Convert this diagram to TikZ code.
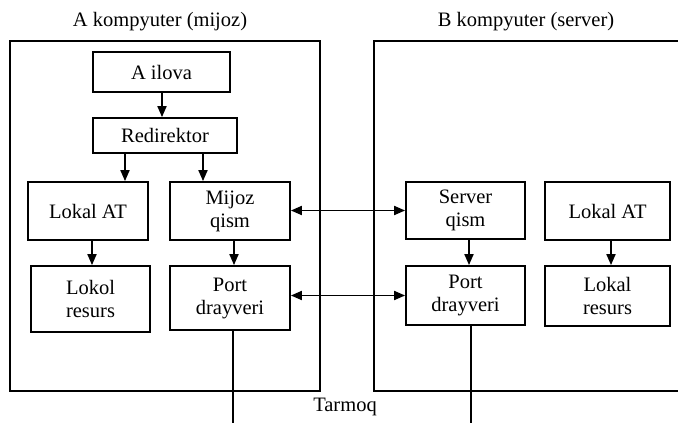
\documentclass[tikz,border=0pt]{standalone}
\usepackage{fontspec}
\setmainfont{Liberation Serif}
\usetikzlibrary{arrows.meta}
\begin{document}
\begin{tikzpicture}[x=1pt,y=-1pt,
  line width=1.8pt,
  every node/.style={font=\fontsize{20.5}{23}\selectfont, inner sep=0pt},
  box/.style={draw, align=center},
  arr/.style={-{Triangle[length=11pt,width=9pt]}},
  darr/.style={{Triangle[length=11pt,width=9pt]}-{Triangle[length=11pt,width=9pt]}}]
\useasboundingbox (0,0) rectangle (678,423);
\clip (0,0) rectangle (678,423);
% containers
\draw (10,41) rectangle (320,391);
\draw (374,41) rectangle (700,391);
\node (titleA) at (160,22) {A kompyuter (mijoz)};
\node (titleB) at (526,22) {B kompyuter (server)};
% client boxes
\node[box, minimum width=137, minimum height=40] (ilova) at (161.5,72) {A ilova};
\node[box, minimum width=144, minimum height=35] (redir) at (165,135.5) {Redirektor};
\node[box, minimum width=120, minimum height=58] (lokalA) at (88,211) {Lokal AT};
\node[box, minimum width=120, minimum height=58] (mijoz) at (230,211) {Mijoz\\qism};
\node[box, minimum width=119, minimum height=66] (lokol) at (90.5,299) {Lokol\\resurs};
\node[box, minimum width=120, minimum height=64] (portA) at (230,298) {Port\\drayveri};
% server boxes
\node[box, minimum width=119, minimum height=57] (server) at (465.5,210.5) {Server\\qism};
\node[box, minimum width=125, minimum height=58] (lokalB) at (607.5,211) {Lokal AT};
\node[box, minimum width=119, minimum height=59] (portB) at (465.5,295.5) {Port\\drayveri};
\node[box, minimum width=125, minimum height=60] (resursB) at (607.5,296) {Lokal\\resurs};
% network
\node (tarmoq) at (345,407) {Tarmoq};
\coordinate (netA) at (233,430);
\coordinate (netB) at (471,430);
% arrows
\draw[arr] (ilova.south -| 162,0) -- (redir.north -| 162,0);
\draw[arr] (redir.south -| 125,0) -- (lokalA.north -| 125,0);
\draw[arr] (redir.south -| 203,0) -- (mijoz.north -| 203,0);
\draw[arr] (lokalA.south -| 92,0) -- (lokol.north -| 92,0);
\draw[arr] (mijoz.south -| 234,0) -- (portA.north -| 234,0);
\draw[arr] (server.south -| 469,0) -- (portB.north -| 469,0);
\draw[arr] (lokalB.south -| 611,0) -- (resursB.north -| 611,0);
\draw[darr] (mijoz.east |- server.west) -- (server.west);
\draw[darr] (portA.east |- portB.west) -- (portB.west);
\draw (portA.south -| netA) -- (netA);
\draw (portB.south -| netB) -- (netB);
\end{tikzpicture}
\end{document}
